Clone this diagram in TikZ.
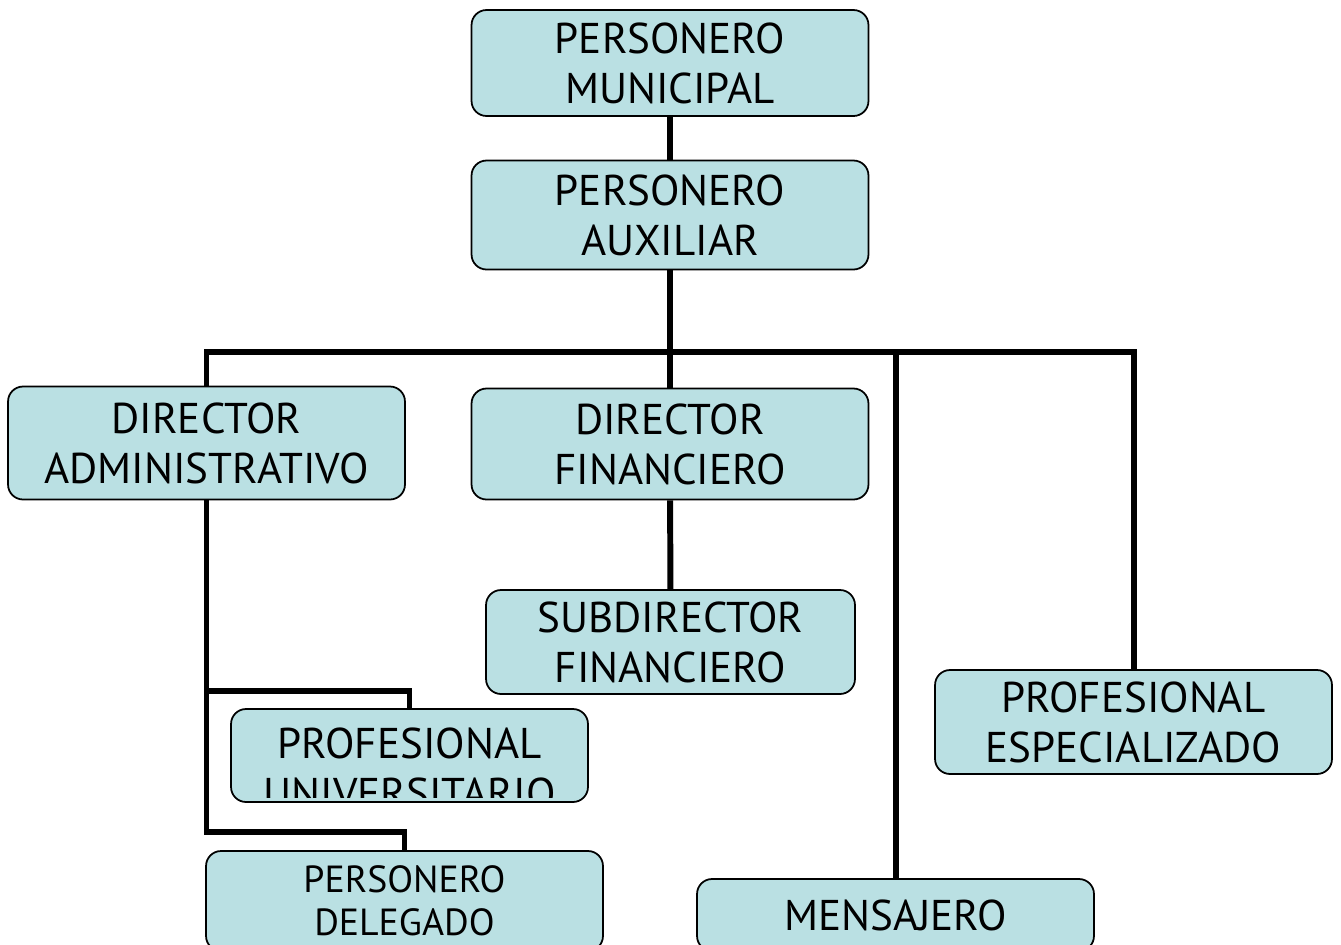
\documentclass[tikz,border=0pt]{standalone}
\usepackage{fontspec}
\setmainfont{PT Sans}
\definecolor{cajafill}{RGB}{186,224,227}
\begin{document}
\begin{tikzpicture}[
    x=0.02cm, y=-0.02cm,
    cargo/.style={draw, rounded corners=0.3cm, fill=cajafill, line width=1pt,
      align=center, inner sep=0pt, font=\fontsize{24.5}{28.5}\selectfont,
      minimum width=7.94cm, minimum height=2.12cm},
    linea/.style={line width=3.4pt}
  ]
  \useasboundingbox (0,0) rectangle (1341,944);
  % cargos
  \node[cargo] (pm) at (670,63) {PERSONERO\\MUNICIPAL};
  \node[cargo, minimum height=2.18cm] (pa) at (670,215) {PERSONERO\\AUXILIAR};
  \node[cargo, minimum height=2.26cm] (da) at (206.5,443) {DIRECTOR\\ADMINISTRATIVO};
  \node[cargo, minimum height=2.22cm] (df) at (670,444) {DIRECTOR\\FINANCIERO};
  \node[cargo, minimum width=7.38cm, minimum height=2.08cm] (sf) at (670.5,642) {SUBDIRECTOR\\FINANCIERO};
  \node[cargo, minimum height=2.08cm] (pe) at (1133.5,722) {PROFESIONAL\\ESPECIALIZADO};
  \node[cargo, minimum width=7.14cm, minimum height=1.86cm] (pu) at (409.5,755.5) {};
  \begin{scope}
    \clip (231,709) rectangle (588,797);
    \node[align=center, font=\fontsize{24.5}{28.5}\selectfont] at (409.5,768) {PROFESIONAL\\UNIVERSITARIO};
  \end{scope}
  \node[cargo, minimum height=2cm, font=\fontsize{21.5}{24.5}\selectfont] (pd) at (404.5,901) {PERSONERO\\DELEGADO};
  \node[cargo, minimum height=1.44cm] (men) at (895.5,915) {MENSAJERO};
  % lineas
  \coordinate (bus) at (670,352);
  \draw[linea] (pm) -- (pa);
  \draw[linea] (pa) -- (bus);
  \draw[linea] (da.north) |- (bus) -| (pe.north);
  \draw[linea] (bus) -- (df);
  \draw[linea] (men.north) -- (men.north |- bus);
  \draw[linea] (df) -- (sf);
  \draw[linea] (da.south) -- ++(0,332) -| (pd.north);
  \draw[linea] (da.south) ++(0,191) -| (pu.north);
\end{tikzpicture}
\end{document}
